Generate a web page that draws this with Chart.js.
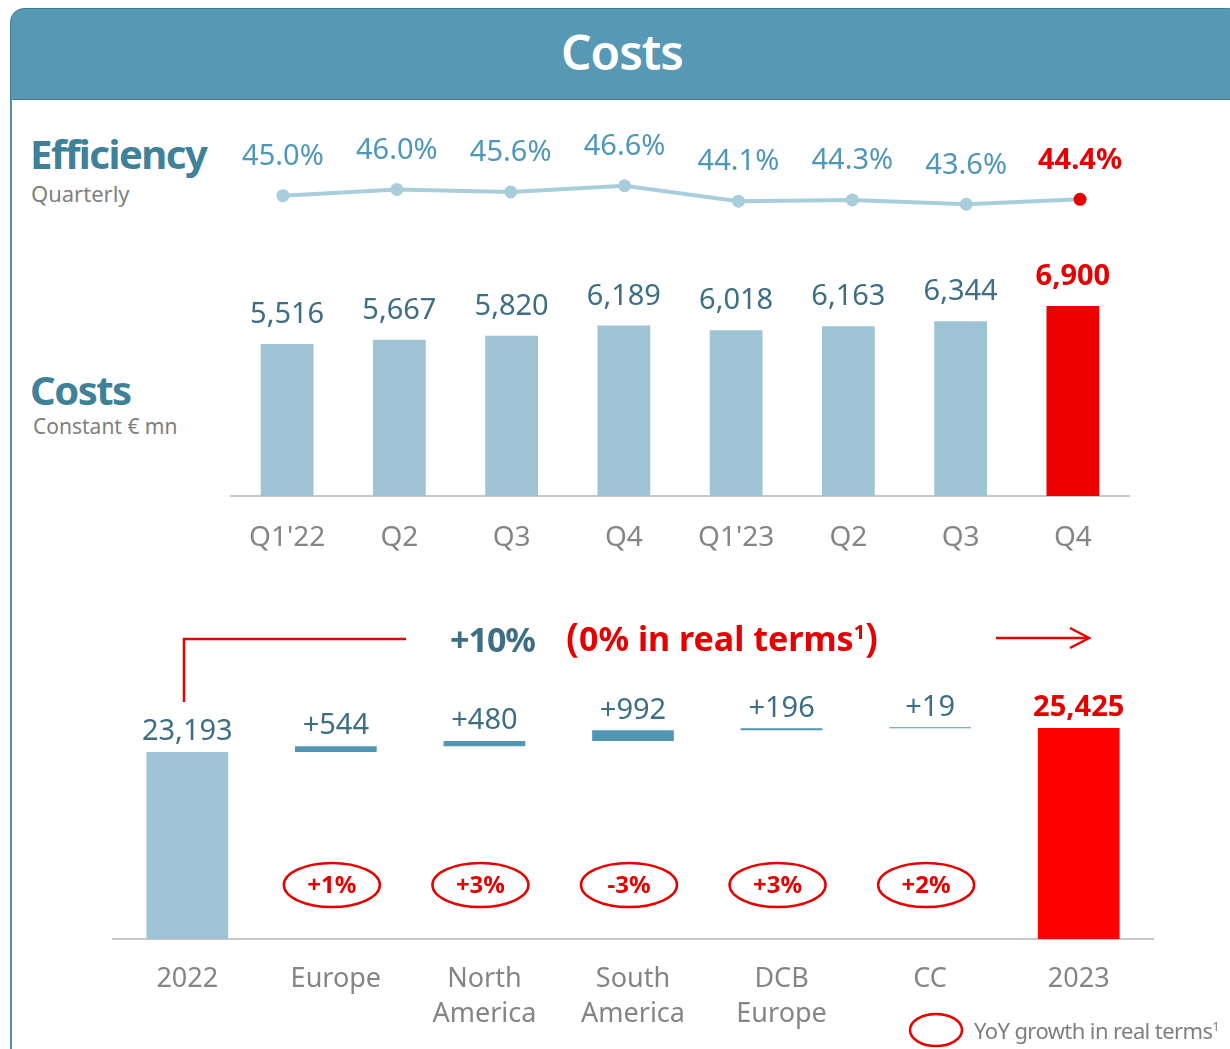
<!DOCTYPE html>
<html>
<head>
<meta charset="utf-8">
<script src="https://cdn.jsdelivr.net/npm/chart.js@4.4.1/dist/chart.umd.min.js"></script>
<style>
  body { margin:0; width:1230px; height:1049px; position:relative; overflow:hidden; background:#fff; font-family:"Noto Sans", sans-serif; }
  .header { position:absolute; left:10px; top:8px; width:1230px; height:90px; background:#5799b5; border:1px solid #3f7d96; border-radius:14px 14px 0 0; }
  .header span { position:absolute; left:0; width:1222px; text-align:center; top:13px; color:#fff; font-size:48px; font-weight:600; line-height:60px; letter-spacing:-1px; }
  .side { position:absolute; left:10px; top:99px; width:2px; height:960px; background:#4f8fa8; }
  .t { position:absolute; white-space:nowrap; line-height:1; }
  canvas { position:absolute; left:0; }
  svg { position:absolute; left:0; top:0; }
</style>
</head>
<body>
<div class="header"><span>Costs</span></div>
<div class="side"></div>

<div class="t" style="left:30px;top:134px;font-size:40px;font-weight:700;color:#3e8199;letter-spacing:-1.5px;">Efficiency</div>
<div class="t" style="left:31px;top:182px;font-size:22px;color:#7f7f7f;">Quarterly</div>
<div class="t" style="left:30px;top:370px;font-size:40px;font-weight:700;color:#3e8199;letter-spacing:-1.5px;">Costs</div>
<div class="t" style="left:33px;top:416px;font-size:21px;color:#7f7f7f;">Constant € mn</div>

<canvas id="eff" width="1230" height="110" style="top:123px"></canvas>
<canvas id="costs" width="1230" height="340" style="top:240px"></canvas>
<canvas id="bridge" width="1230" height="449" style="top:600px"></canvas>

<svg width="1230" height="1049">
  <polyline points="184,702 184,639 406,639" fill="none" stroke="#e60000" stroke-width="2.5"/>
  <line x1="996" y1="638" x2="1088" y2="638" stroke="#e60000" stroke-width="2.5"/>
  <polyline points="1070,628 1089,638 1070,648" fill="none" stroke="#e60000" stroke-width="2.5"/>
  <ellipse cx="936" cy="1030" rx="26" ry="16" fill="none" stroke="#e60000" stroke-width="2.5"/>
</svg>

<div class="t" style="left:450px;top:622px;font-size:34px;font-weight:700;color:#3d6e84;letter-spacing:-1px;">+10%</div>
<div class="t" style="left:566px;top:616px;font-size:34px;font-weight:700;color:#e60000;letter-spacing:0px;"><span style="font-size:40px;font-weight:600;">(</span>0% in real terms<sup style="font-size:20px;">1</sup><span style="font-size:40px;font-weight:600;">)</span></div>
<div class="t" style="left:974px;top:1019px;font-size:22px;color:#7f7f7f;letter-spacing:-0.6px;">YoY growth in real terms<sup style="font-size:13px;">1</sup></div>

<script>
  const quarters = ["Q1'22", "Q2", "Q3", "Q4", "Q1'23", "Q2", "Q3", "Q4"];
  const efficiency = [45.0, 46.0, 45.6, 46.6, 44.1, 44.3, 43.6, 44.4];
  const costs = [5516, 5667, 5820, 6189, 6018, 6163, 6344, 6900];

  const bridgeLabels = ['2022', 'Europe', ['North', 'America'], ['South', 'America'], ['DCB', 'Europe'], 'CC', '2023'];
  const bridgeValues = [23193, 544, 480, 992, 196, 19, 25425];
  const realGrowth = [null, '+1%', '+3%', '-3%', '+3%', '+2%', null];

  const RED = '#e60000';
  const TEAL = '#3d6e84';
  const LIGHT = '#9dc3d4';
  const FONT = '"Noto Sans", sans-serif';

  // floating bars for the bridge: totals at both ends, steps in between
  let run = bridgeValues[0];
  const bridgeData = bridgeValues.map((v, i) => {
    if (i === 0 || i === bridgeValues.length - 1) return v;
    const bar = [run, run + v];
    run += v;
    return bar;
  });

  // draws text above each point / bar
  function labelPlugin(id, fmt, gap) {
    return {
      id: id,
      afterDatasetsDraw(chart) {
        const ctx = chart.ctx;
        const meta = chart.getDatasetMeta(0);
        ctx.save();
        ctx.textAlign = 'center';
        ctx.textBaseline = 'middle';
        meta.data.forEach((el, i) => {
          const last = i === meta.data.length - 1;
          const f = fmt(i, last);
          ctx.font = f.font;
          ctx.fillStyle = f.color;
          ctx.fillText(f.text, el.x, el.y - gap);
        });
        ctx.restore();
      }
    };
  }

  new Chart(document.getElementById('eff'), {
    type: 'line',
    data: {
      labels: quarters,
      datasets: [{
        data: efficiency,
        borderColor: '#a9cedb',
        borderWidth: 4,
        pointRadius: 6.5,
        pointBackgroundColor: efficiency.map((v, i) => i === efficiency.length - 1 ? RED : '#a9cedb'),
        pointBorderWidth: 0,
        clip: false
      }]
    },
    options: {
      responsive: false,
      animation: false,
      layout: { padding: { left: 226, right: 93, top: 0, bottom: 0 } },
      plugins: { legend: { display: false }, tooltip: { enabled: false } },
      scales: {
        x: { display: false, offset: true },
        y: { display: false, min: 40, max: 55.714 }
      }
    },
    plugins: [labelPlugin('effLabels', (i, last) => ({
      text: efficiency[i].toFixed(1) + '%',
      font: (last ? '700 29px ' : '400 29px ') + FONT,
      color: last ? RED : '#4f97b8'
    }), 39)]
  });

  new Chart(document.getElementById('costs'), {
    type: 'bar',
    data: {
      labels: quarters,
      datasets: [{
        data: costs,
        backgroundColor: costs.map((v, i) => i === costs.length - 1 ? '#ec0000' : LIGHT),
        barPercentage: 0.47,
        categoryPercentage: 1
      }]
    },
    options: {
      responsive: false,
      animation: false,
      layout: { padding: { left: 231, right: 101, top: 20, bottom: 0 } },
      plugins: { legend: { display: false }, tooltip: { enabled: false } },
      scales: {
        x: {
          grid: { display: false, drawTicks: false },
          border: { display: true, color: '#c8c8c8', width: 2 },
          ticks: { color: '#858585', font: { family: FONT, size: 28 }, padding: 25 },
          afterFit(scale) { scale.height = 84; }
        },
        y: { display: false, min: 0, max: 8566 }
      }
    },
    plugins: [labelPlugin('costLabels', (i, last) => ({
      text: costs[i].toLocaleString('en-US'),
      font: (last ? '700 29px ' : '400 29px ') + FONT,
      color: last ? RED : TEAL
    }), 29)]
  });

  const ellipsePlugin = {
    id: 'growthEllipses',
    afterDatasetsDraw(chart) {
      const ctx = chart.ctx;
      const x = chart.scales.x;
      const cy = chart.chartArea.bottom - 54;
      ctx.save();
      ctx.strokeStyle = RED;
      ctx.lineWidth = 2.5;
      ctx.fillStyle = RED;
      ctx.textAlign = 'center';
      ctx.textBaseline = 'middle';
      ctx.font = '700 24px ' + FONT;
      realGrowth.forEach((g, i) => {
        if (!g) return;
        const cx = x.getPixelForValue(i) - 4;
        ctx.beginPath();
        ctx.ellipse(cx, cy, 48, 22, 0, 0, Math.PI * 2);
        ctx.stroke();
        ctx.fillText(g, cx, cy + 1);
      });
      ctx.restore();
    }
  };

  new Chart(document.getElementById('bridge'), {
    type: 'bar',
    data: {
      labels: bridgeLabels,
      datasets: [{
        data: bridgeData,
        backgroundColor: bridgeValues.map((v, i) => i === 0 ? LIGHT : (i === bridgeValues.length - 1 ? '#ff0000' : '#5296b3')),
        barPercentage: 0.55,
        categoryPercentage: 1,
        minBarLength: 1
      }]
    },
    options: {
      responsive: false,
      animation: false,
      layout: { padding: { left: 113, right: 77, top: 90, bottom: 0 } },
      plugins: { legend: { display: false }, tooltip: { enabled: false } },
      scales: {
        x: {
          grid: { display: false, drawTicks: false },
          border: { display: true, color: '#c8c8c8', width: 2 },
          ticks: { color: '#858585', font: { family: FONT, size: 27, lineHeight: 1.3 }, padding: 23 },
          afterFit(scale) { scale.height = 110; }
        },
        y: { display: false, min: 5800, max: 28963 }
      }
    },
    plugins: [labelPlugin('bridgeLabels', (i, last) => ({
      text: i === 0 || last ? bridgeValues[i].toLocaleString('en-US') : '+' + bridgeValues[i],
      font: (last ? '700 29px ' : '400 29px ') + FONT,
      color: last ? RED : TEAL
    }), 20), ellipsePlugin]
  });
</script>
</body>
</html>
